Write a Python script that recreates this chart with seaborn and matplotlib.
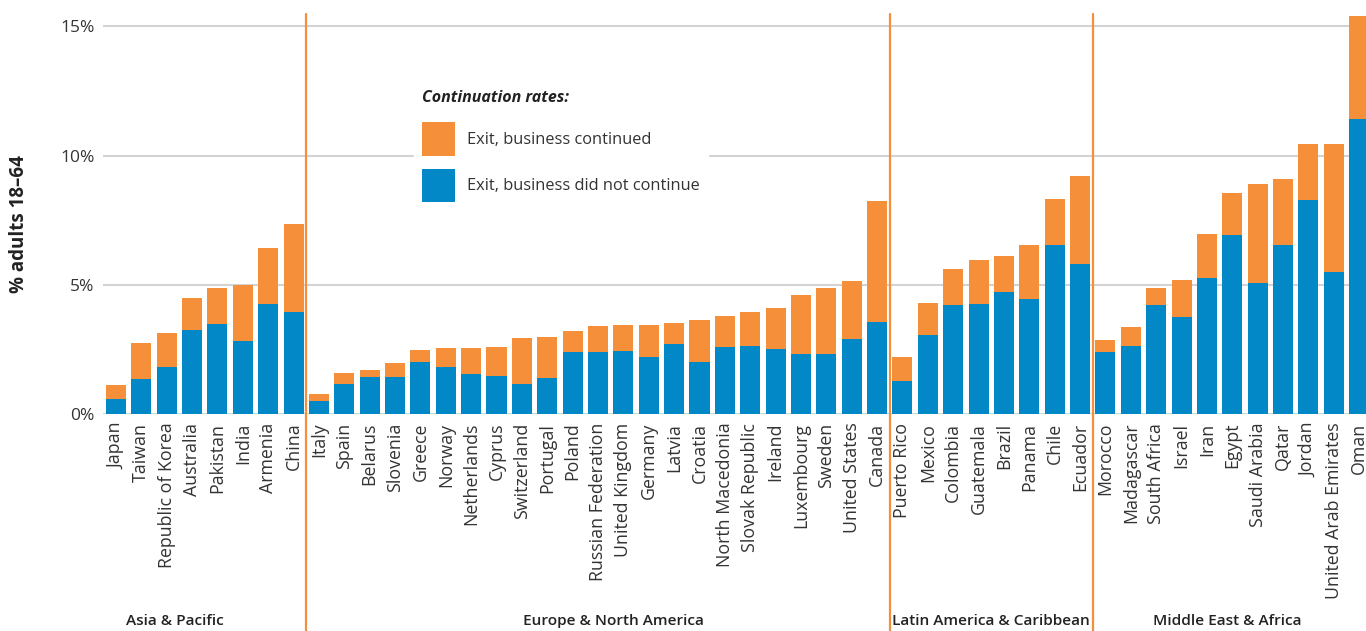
import matplotlib
matplotlib.use("Agg")
import matplotlib.pyplot as plt
import matplotlib.transforms as mtransforms
from matplotlib.patches import Patch
import seaborn as sns
import pandas as pd

countries = [
    "Japan", "Taiwan", "Republic of Korea", "Australia", "Pakistan", "India", "Armenia", "China",
    "Italy", "Spain", "Belarus", "Slovenia", "Greece", "Norway", "Netherlands", "Cyprus",
    "Switzerland", "Portugal", "Poland", "Russian Federation", "United Kingdom", "Germany",
    "Latvia", "Croatia", "North Macedonia", "Slovak Republic", "Ireland", "Luxembourg",
    "Sweden", "United States", "Canada",
    "Puerto Rico", "Mexico", "Colombia", "Guatemala", "Brazil", "Panama", "Chile", "Ecuador",
    "Morocco", "Madagascar", "South Africa", "Israel", "Iran", "Egypt", "Saudi Arabia",
    "Qatar", "Jordan", "United Arab Emirates", "Oman",
]
total_exit = [
    1.13, 2.76, 3.14, 4.50, 4.88, 5.00, 6.43, 7.36,
    0.79, 1.60, 1.71, 1.98, 2.49, 2.56, 2.56, 2.60,
    2.95, 2.99, 3.22, 3.41, 3.45, 3.45,
    3.53, 3.65, 3.80, 3.96, 4.11, 4.61,
    4.88, 5.15, 8.25,
    2.22, 4.30, 5.62, 5.97, 6.12, 6.55, 8.33, 9.22,
    2.87, 3.38, 4.88, 5.19, 6.97, 8.56, 8.91,
    9.10, 10.45, 10.45, 15.40,
]
not_continued = [
    0.59, 1.37, 1.83, 3.26, 3.49, 2.83, 4.27, 3.96,
    0.51, 1.17, 1.44, 1.44, 2.02, 1.83, 1.56, 1.48,
    1.17, 1.40, 2.41, 2.41, 2.45, 2.22,
    2.72, 2.02, 2.60, 2.64, 2.53, 2.33,
    2.33, 2.91, 3.57,
    1.29, 3.07, 4.23, 4.27, 4.73, 4.46, 6.55, 5.81,
    2.41, 2.64, 4.23, 3.76, 5.27, 6.93, 5.08,
    6.55, 8.29, 5.50, 11.42,
]
regions = ["Asia & Pacific", "Europe & North America", "Latin America & Caribbean", "Middle East & Africa"]
region_sizes = [8, 23, 8, 11]
y_ticks = [0, 5, 10, 15]
y_tick_labels = ["0%", "5%", "10%", "15%"]
legend_title = "Continuation rates:"
legend_labels = ["Exit, business continued", "Exit, business did not continue"]
y_label = "% adults 18\u201364"

ORANGE = "#F58F3A"
BLUE = "#0288C7"
GRID = "#D3D3D3"
TEXT = "#333333"

sns.set_theme(style="white")
plt.rcParams["font.family"] = ["Open Sans", "DejaVu Sans"]

df = pd.DataFrame({"country": countries, "total": total_exit, "blue": not_continued})

W, H = 1366, 631
fig = plt.figure(figsize=(W / 100, H / 100), dpi=100)
ax_left, ax_top_px, ax_bottom_px = 103, 14, 414.3
ax = fig.add_axes([ax_left / W, 1 - ax_bottom_px / H, 1 - ax_left / W, (ax_bottom_px - ax_top_px) / H])

sns.barplot(data=df, x="country", y="total", color=ORANGE, saturation=1, width=0.79, ax=ax,
            zorder=2, linewidth=0, edgecolor="none")
sns.barplot(data=df, x="country", y="blue", color=BLUE, saturation=1, width=0.79, ax=ax,
            zorder=3, linewidth=0, edgecolor="none")

ax.set_xlim(-0.51, 49.27)
ax.set_ylim(0, 15.48)
ax.set_yticks(y_ticks)
ax.set_yticklabels(y_tick_labels)
ax.set_axisbelow(True)
ax.yaxis.grid(True, color=GRID, linewidth=1.5)
ax.xaxis.grid(False)
for s in ax.spines.values():
    s.set_visible(False)
ax.set_xlabel("")
ax.set_ylabel("")
ax.tick_params(axis="y", length=0, pad=6, labelsize=12.5, labelcolor=TEXT)
ax.tick_params(axis="x", length=0, pad=6, labelsize=12.8, labelcolor=TEXT)
ax.set_xticks(range(len(countries)))
ax.set_xticklabels(countries, rotation=90, ha="center", va="top")

# region separators
bounds = []
acc = 0
for n in region_sizes[:-1]:
    acc += n
    bounds.append(acc - 0.5)
for b in bounds:
    ax.axvline(b, ymin=-0.545, ymax=1.0, color=ORANGE, linewidth=1.6, clip_on=False, zorder=5)

# region labels
trans = mtransforms.blended_transform_factory(ax.transData, ax.transAxes)
region_x = [2.33, 19.59, 34.5, 43.8]
for name, xr in zip(regions, region_x):
    ax.text(xr, -0.517, name, transform=trans, ha="center", va="center",
            fontsize=11.1, fontweight="semibold", color="#222222")

fig.text(19 / W, 1 - 224 / H, y_label, rotation=90, ha="center", va="center",
         fontsize=13.5, fontweight="bold", color="#222222")

handles = [Patch(facecolor=ORANGE, edgecolor="none"), Patch(facecolor=BLUE, edgecolor="none")]
leg = ax.legend(handles, legend_labels, loc="upper left",
                bbox_to_anchor=(406 / W, 1 - 106 / H), bbox_transform=fig.transFigure,
                frameon=True, fancybox=False, framealpha=1, edgecolor="white", facecolor="white",
                fontsize=11.8, handlelength=2.0, handleheight=2.8, handletextpad=0.7,
                labelspacing=0.75, borderpad=0.5)
for t in leg.get_texts():
    t.set_color(TEXT)
leg.set_zorder(10)

fig.text(422 / W, 1 - 98 / H, legend_title, ha="left", va="center", fontsize=11.5,
         fontstyle="italic", fontweight="bold", color="#222222", zorder=11)

fig.savefig("out.png", dpi=100)
